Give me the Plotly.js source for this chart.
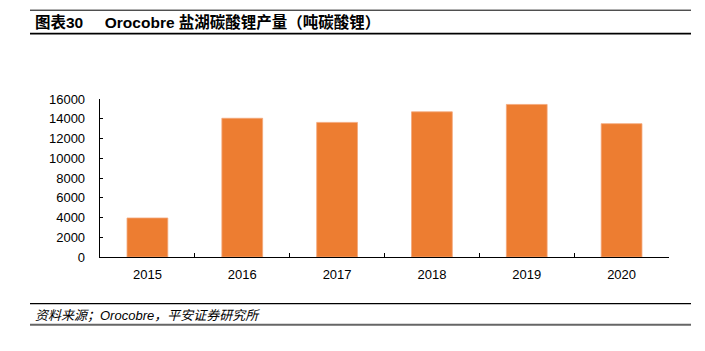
<!DOCTYPE html>
<html>
<head>
<meta charset="utf-8">
<script src="https://cdn.plot.ly/plotly-3.0.1.min.js"></script>
<style>html,body{margin:0;padding:0;background:#fff;}#chart{width:705px;height:351px;}</style>
</head>
<body>
<div id="chart"></div>
<script>
const years = ["2015", "2016", "2017", "2018", "2019", "2020"];
const production = [3950, 14050, 13630, 14700, 15450, 13500];
const yTicks = [0, 2000, 4000, 6000, 8000, 10000, 12000, 14000, 16000];

const W = 705, H = 351;
const L = 100, R = 669, T = 99.3, B = 257.3;
const px = x => (x - L) / (R - L);
const py = y => (B - y) / (B - T);

const font = "Liberation Sans, Arial, Noto Sans CJK SC, sans-serif";
const cjk = "Liberation Sans, Arial, Noto Sans CJK SC, sans-serif";

const data = [{
  type: "bar",
  x: years,
  y: production,
  width: 0.43,
  marker: {color: "#ED7D31", line: {color: "#F4A77A", width: 0.8}},
  hoverinfo: "x+y"
}];

const layout = {
  width: W, height: H,
  margin: {l: L, r: W - R, t: T, b: H - B, pad: 0},
  paper_bgcolor: "#fff", plot_bgcolor: "#fff",
  showlegend: false,
  xaxis: {
    type: "category",
    showgrid: false, zeroline: false,
    showline: true, linecolor: "#000", linewidth: 1.3,
    ticks: "inside", tickson: "boundaries", ticklen: 4, tickcolor: "#000", tickwidth: 1,
    tickfont: {family: font, size: 13, color: "#000"},
    ticklabelstandoff: 5
  },
  yaxis: {
    range: [0, 16000],
    tickvals: yTicks,
    tickformat: "d",
    showgrid: false, zeroline: false,
    showline: true, linecolor: "#000", linewidth: 1.3,
    ticks: "inside", ticklen: 3, tickcolor: "#000", tickwidth: 1,
    tickfont: {family: font, size: 13, color: "#000"},
    ticklabelstandoff: 11
  },
  shapes: [
    {type: "line", xref: "paper", yref: "paper", x0: px(30), x1: px(691), y0: py(10.5), y1: py(10.5), line: {color: "#000", width: 1}},
    {type: "line", xref: "paper", yref: "paper", x0: px(30), x1: px(691), y0: py(34), y1: py(34), line: {color: "#000", width: 1.8}},
    {type: "line", xref: "paper", yref: "paper", x0: px(30), x1: px(691), y0: py(304), y1: py(304), line: {color: "#000", width: 1.2}},
    {type: "line", xref: "paper", yref: "paper", x0: px(30), x1: px(691), y0: py(325), y1: py(325), line: {color: "#666", width: 2}}
  ],
  annotations: [
    {xref: "paper", yref: "paper", x: px(33), y: py(22), xanchor: "left", yanchor: "middle", showarrow: false,
     text: "<b>图表30&nbsp;&nbsp;&nbsp;&nbsp;&nbsp;Orocobre 盐湖碳酸锂产量（吨碳酸锂）</b>", font: {family: cjk, size: 15.5, color: "#000"}},
    {xref: "paper", yref: "paper", x: px(33), y: py(315.5), xanchor: "left", yanchor: "middle", showarrow: false,
     text: "<i>资料来源；Orocobre，平安证券研究所</i>", font: {family: cjk, size: 13, color: "#000"}}
  ]
};

Plotly.newPlot("chart", data, layout, {displayModeBar: false, staticPlot: true});
</script>
</body>
</html>
